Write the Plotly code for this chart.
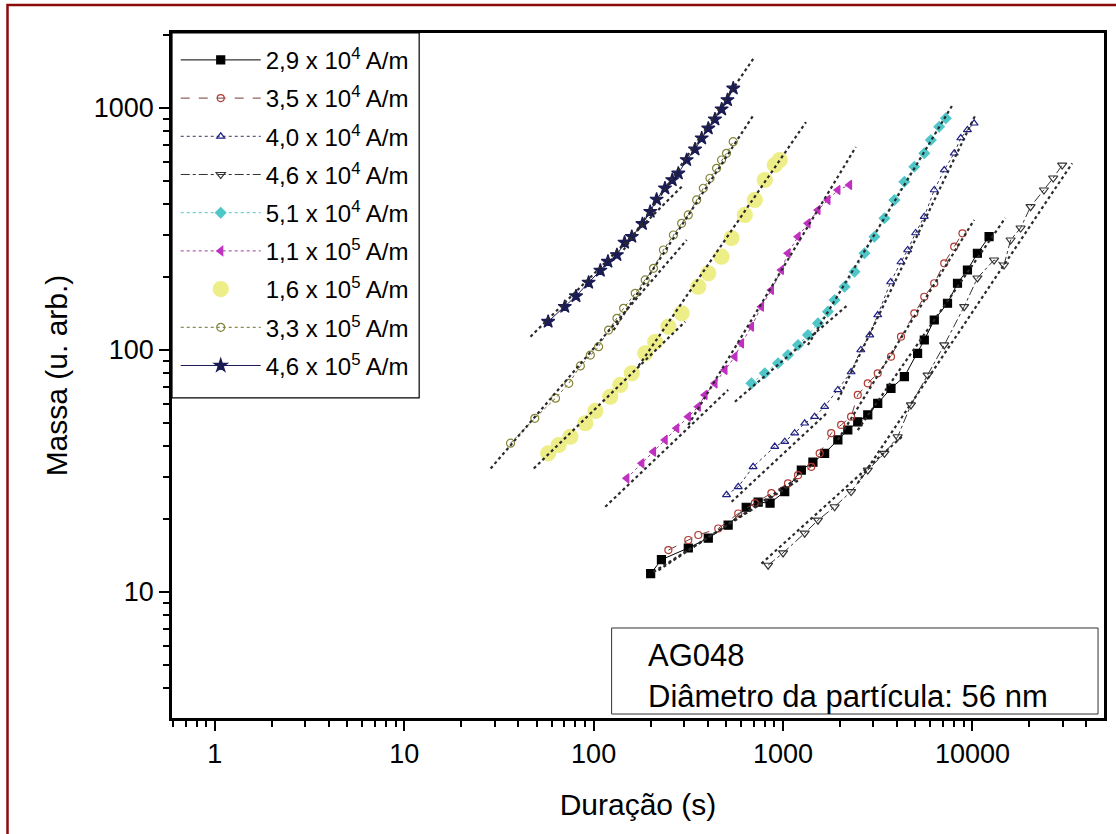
import plotly.graph_objects as go

# ---------------- data ----------------
series_names = [
    "2,9 x 10<sup>4</sup> A/m", "3,5 x 10<sup>4</sup> A/m", "4,0 x 10<sup>4</sup> A/m",
    "4,6 x 10<sup>4</sup> A/m", "5,1 x 10<sup>4</sup> A/m", "1,1 x 10<sup>5</sup> A/m",
    "1,6 x 10<sup>5</sup> A/m", "3,3 x 10<sup>5</sup> A/m", "4,6 x 10<sup>5</sup> A/m",
]

t_29e4 = [200, 228, 316, 403, 513, 639, 739, 854, 1021, 1249, 1438, 1658, 1948, 2198, 2481, 2802,
          3162, 3715, 4371, 5134, 5569, 6286, 7386, 8340, 9412, 10624, 12243]
m_29e4 = [11.9, 13.6, 15.2, 16.7, 18.9, 22.4, 23.5, 23.3, 26.0, 31.9, 34.4, 37.4, 42.5, 46.7, 50.5, 53.9,
          60.2, 69.4, 77.6, 96.9, 110, 133, 156, 188.7, 214.1, 251, 293.9]

t_35e4 = [248, 316, 357, 455, 580, 710, 868, 1062, 1200, 1409, 1561, 1796, 2027, 2288, 2481, 2802,
          3162, 3715, 4195, 4934, 5569, 6286, 7098, 8012, 8859]
m_35e4 = [14.9, 16.4, 17.2, 18.3, 21.1, 23.3, 25.6, 28.1, 30.4, 32.9, 37.4, 45.3, 49.0, 53.0, 65.2, 72.8,
          80.1, 93.8, 113.5, 141.8, 166, 188.7, 228.2, 267.3, 303.5]

t_40e4 = [503, 580, 695, 904, 1021, 1152, 1301, 1468, 1658, 1948, 2288, 2574, 2871, 3162, 3702, 4195,
          4550, 5012, 5569, 6286, 7098, 8012, 8678, 9412, 10206]
m_40e4 = [25.2, 27.2, 32.9, 39.9, 41.8, 45.3, 49.8, 53.0, 58.3, 68.4, 81.1, 100, 115.3, 139.5, 191, 231,
          259, 304.4, 355.5, 458.3, 554.3, 650, 751.6, 811.3, 864.8]

t_46e4 = [834, 1000, 1301, 1529, 1872, 2288, 2802, 3430, 4030, 4735, 5797, 7098, 9044, 10624, 13007,
          14681, 15909, 17962, 20274, 23846, 26695, 29776]
m_46e4 = [12.9, 14.5, 17.5, 19.8, 22.5, 26.0, 31.9, 37.4, 43.8, 59.3, 78.8, 104.9, 151, 198.4, 235.4,
          224.5, 284.8, 319.2, 390.9, 458.3, 513.6, 581]

t_51e4 = [681, 801, 941, 1062, 1200, 1354, 1529, 1726, 1872, 2112, 2385, 2692, 3038, 3430, 3872, 4371,
          4934, 5569, 6033, 6678, 7236]
m_51e4 = [72.8, 80.1, 88.1, 95.3, 104.9, 115.3, 128.9, 144, 160.9, 182.6, 210.7, 251, 293.9, 350.2,
          416.8, 496, 572, 650, 737.6, 837, 907]

t_11e5 = [149.7, 179.6, 207, 238.4, 274.5, 316.2, 356.9, 387.2, 437, 493.4, 556.8, 603.3, 681, 768.8,
          867.8, 979.7, 1062, 1200, 1354, 1529, 1726, 1948, 2245]
m_11e5 = [29.5, 34.0, 38.0, 42.5, 47.5, 53.0, 58.3, 65.2, 72.8, 82.7, 93.8, 106.6, 124.8, 151, 177,
          214.1, 251, 293.9, 333.9, 378.9, 416.8, 458.3, 480.8]

t_16e5 = [57.5, 65.4, 75.4, 90.4, 102.1, 122.4, 138.2, 159, 187.2, 211.2, 248.2, 291.5, 356.9, 403,
          473.5, 534.6, 628.5, 709.8, 801, 904.4, 960.7]
m_16e5 = [37.4, 40.5, 43.8, 49.8, 56.0, 64.1, 71.7, 80.1, 96.9, 108, 124.8, 141.8, 182.6, 207.5, 243,
          290.3, 361.4, 416.8, 504, 581.4, 609.8]

t_33e5 = [36.4, 48.9, 62.9, 73.9, 85.1, 96.1, 106.2, 119.9, 132.7, 143.9, 165.8, 187.2, 207, 233.6,
          263.8, 291.5, 316, 349.8, 379.3, 411.5, 445.7, 473.5, 503, 545.6]
m_33e5 = [41.2, 52.2, 63.2, 72.8, 85.9, 95.3, 103.2, 120.9, 135.2, 148.7, 171.5, 194.7, 217.6, 259,
          298.7, 333.9, 361.4, 416.8, 465.9, 512.4, 563.5, 609.8, 649.7, 725.5]

t_46e5 = [57.5, 70.4, 80.7, 94.1, 108.5, 119, 132.7, 145.6, 159, 181, 199, 215, 238, 260, 280, 310,
          343, 372, 403, 437, 474, 509, 546]
m_46e5 = [131, 151, 167, 190, 213, 232, 247, 278, 294, 332, 373, 419, 466, 504, 537, 610, 675, 750,
          824, 898, 988, 1079, 1206]

# power-law fit segments: two per series, endpoints (t_start, t_end) and (m_start, m_end)
fit_t = [
    [(207, 1200), (2481, 14917)],
    [(220, 1200), (1948, 10206)],
    [(535, 1726), (1948, 10370)],
    [(769, 4281), (2481, 33600)],
    [(557, 2198), (1354, 7848)],
    [(115.2, 513), (316, 2422)],
    [(48.3, 304), (172.6, 1322)],
    [(28.6, 310), (127.4, 704)],
    [(46.4, 298), (143.9, 695)],
]
fit_m = [
    [(12.1, 28.9), (46.7, 351.2)],
    [(12.3, 29.6), (42.5, 344.5)],
    [(23.6, 55.4), (62.1, 935.7)],
    [(13.1, 44.1), (28.2, 590.8)],
    [(61.1, 153.5), (104.9, 1029)],
    [(22.5, 68.4), (49.0, 690)],
    [(32.4, 130.9), (85.9, 875)],
    [(32.4, 284.8), (120.9, 944.6)],
    [(113.5, 481), (259, 1594)],
]

x_tick_vals = [1, 10, 100, 1000, 10000]
x_tick_text = ["1", "10", "100", "1000", "10000"]
y_tick_vals = [10, 100, 1000]
y_tick_text = ["10", "100", "1000"]

# ---------------- styling ----------------
series_t = [t_29e4, t_35e4, t_40e4, t_46e4, t_51e4, t_11e5, t_16e5, t_33e5, t_46e5]
series_m = [m_29e4, m_35e4, m_40e4, m_46e4, m_51e4, m_11e5, m_16e5, m_33e5, m_46e5]
styles = [
    dict(mode="lines+markers", color="#000000", symbol="square", size=8, dash="solid", lcol="#000000", op=1),
    dict(mode="lines+markers", color="#b03a32", symbol="circle-open", size=7, dash="dash", lcol="#7a3a35", op=1),
    dict(mode="lines+markers", color="#1e1e86", symbol="triangle-up-open", size=7, dash="dot", lcol="#333355", op=1),
    dict(mode="lines+markers", color="#333333", symbol="triangle-down-open", size=8, dash="dashdot", lcol="#333333", op=1),
    dict(mode="lines+markers", color="#4fc6c8", symbol="diamond", size=8, dash="dot", lcol="#4fc6c8", op=1),
    dict(mode="lines+markers", color="#c030c0", symbol="triangle-left", size=8, dash="dot", lcol="#9a409a", op=1),
    dict(mode="markers", color="#e6e64a", symbol="circle", size=15, dash="solid", lcol="#e6e64a", op=0.65),
    dict(mode="lines+markers", color="#85853a", symbol="circle-open", size=8, dash="dot", lcol="#6a6a30", op=1),
    dict(mode="lines+markers", color="#1b1b55", symbol="star", size=10, dash="solid", lcol="#1b1b55", op=1),
]

FONT = "Liberation Sans, Arial, sans-serif"
fig = go.Figure()

for i, name in enumerate(series_names):
    st = styles[i]
    fig.add_trace(go.Scatter(
        x=series_t[i], y=series_m[i], name=name, mode=st["mode"],
        legendgroup="g%d" % i, opacity=st["op"],
        marker=dict(symbol=st["symbol"], size=st["size"], color=st["color"],
                    line=dict(width=1.2, color=st["color"])),
        line=dict(color=st["lcol"], width=1, dash=st["dash"]),
    ))

fx, fy = [], []
for ts, ms in zip(fit_t, fit_m):
    for (ta, tb), (ma, mb) in zip(ts, ms):
        fx += [ta, tb, None]
        fy += [ma, mb, None]
fig.add_trace(go.Scatter(x=fx, y=fy, mode="lines", showlegend=False, hoverinfo="skip",
                         line=dict(color="#2a2a2a", width=2.2, dash="dot")))

minor_x = [d * 10 ** e for e in range(-1, 5) for d in range(2, 10)]
minor_y = [d * 10 ** e for e in range(0, 4) for d in range(2, 10)]

axis_common = dict(
    type="log", showgrid=False, zeroline=False,
    showline=True, linecolor="black", linewidth=2.5, mirror=True,
    ticks="outside", ticklen=10, tickwidth=2, tickcolor="black",
    tickfont=dict(family=FONT, size=27, color="black"),
    tickmode="array",
)

fig.update_layout(
    width=1116, height=834,
    margin=dict(l=172, r=9, t=33, b=116),
    paper_bgcolor="white", plot_bgcolor="white",
    font=dict(family=FONT, color="black"),
    xaxis=dict(**axis_common, range=[-0.2263, 4.6947],
               tickvals=x_tick_vals, ticktext=x_tick_text,
               minor=dict(tickmode="array", tickvals=minor_x, ticks="outside", ticklen=6,
                          tickwidth=2, tickcolor="black"),
               title=dict(text="Duração (s)", font=dict(family=FONT, size=30), standoff=26)),
    yaxis=dict(**axis_common, range=[0.4793, 3.3099],
               tickvals=y_tick_vals, ticktext=y_tick_text,
               minor=dict(tickmode="array", tickvals=minor_y, ticks="outside", ticklen=6,
                          tickwidth=2, tickcolor="black"),
               title=dict(text="Massa (u. arb.)", font=dict(family=FONT, size=30), standoff=18)),
    legend=dict(x=0.004, y=0.993, xanchor="left", yanchor="top", bgcolor="rgba(0,0,0,0)",
                borderwidth=0, itemwidth=80, tracegroupgap=4,
                font=dict(family=FONT, size=24, color="black"), traceorder="grouped"),
    showlegend=True,
)

# legend frame (drawn as a box so it can be taller than its entries)
fig.add_shape(type="rect", xref="paper", yref="paper", x0=0.0, x1=0.2652, y0=0.4672, y1=1.0,
              line=dict(color="black", width=1.2), fillcolor="white", layer="above")

# info box
fig.add_shape(type="rect", xref="paper", yref="paper", x0=0.4717, x1=0.9936, y0=0.0058, y1=0.1314,
              line=dict(color="#333333", width=1), fillcolor="white", layer="above")
fig.add_annotation(xref="paper", yref="paper", x=0.509, y=0.091, xanchor="left", yanchor="middle",
                   text="AG048", showarrow=False, font=dict(family=FONT, size=31, color="black"))
fig.add_annotation(xref="paper", yref="paper", x=0.509, y=0.031, xanchor="left", yanchor="middle",
                   text="Diâmetro da partícula: 56 nm", showarrow=False,
                   font=dict(family=FONT, size=31, color="black"))

# dark red outer frame (left and top edges visible)
fig.add_shape(type="rect", xref="paper", yref="paper", x0=-0.1765, x1=1.06, y0=-0.2, y1=1.0409,
              line=dict(color="#8b0a0a", width=2.5), fillcolor="rgba(0,0,0,0)", layer="above")

fig.write_html("out.html")
